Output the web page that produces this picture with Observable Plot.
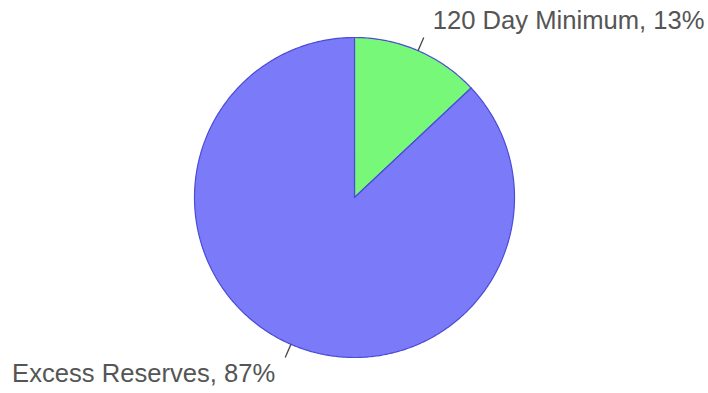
<!DOCTYPE html>
<html>
<head>
<meta charset="utf-8">
<script src="https://cdn.jsdelivr.net/npm/d3@7"></script>
<script src="https://cdn.jsdelivr.net/npm/@observablehq/plot@0.6"></script>
<style>
  html, body { margin: 0; padding: 0; background: #fff; }
  #chart svg { display: block; }
</style>
</head>
<body>
<div id="chart"></div>
<script>
// Data
const categories = ["120 Day Minimum", "Excess Reserves"];
const percents = [13, 87];
const colors = ["#78f878", "#7b7bfa"];

// Slice geometry from the data via d3.pie (angles clockwise from 12 o'clock)
const pie = d3.pie().sort(null).value(d => d.value);
const arcs = pie(categories.map((c, i) => ({name: c, value: percents[i]})));

const slicePts = [];
arcs.forEach(a => {
  const n = Math.max(2, Math.ceil((a.endAngle - a.startAngle) / 0.01));
  slicePts.push({name: a.data.name, x: 0, y: 0});
  for (let k = 0; k <= n; k++) {
    const t = a.startAngle + (a.endAngle - a.startAngle) * k / n;
    slicePts.push({name: a.data.name, x: Math.sin(t), y: Math.cos(t)});
  }
  slicePts.push({name: a.data.name, x: 0, y: 0});
});

const labels = arcs.map(a => {
  const m = (a.startAngle + a.endAngle) / 2;
  return {
    name: a.data.name,
    text: `${a.data.name}, ${a.data.value}%`,
    x1: Math.sin(m), y1: Math.cos(m),
    x2: 1.09 * Math.sin(m), y2: 1.09 * Math.cos(m),
    right: Math.sin(m) >= 0
  };
});

const chart = Plot.plot({
  width: 708,
  height: 393,
  margin: 0,
  x: {domain: [-1, 1], range: [194, 514], axis: null},
  y: {domain: [-1, 1], range: [357, 37], axis: null},
  color: {domain: categories, range: colors},
  style: {fontFamily: "'Liberation Sans', Arial, sans-serif", background: "#fff"},
  marks: [
    Plot.line(slicePts, {x: "x", y: "y", z: "name", fill: "name", stroke: "#4b4bd6", strokeWidth: 1.2, curve: "linear"}),
    Plot.link(labels, {x1: "x1", y1: "y1", x2: "x2", y2: "y2", stroke: "#444", strokeWidth: 1.3}),
    Plot.text(labels.filter(d => d.right), {x: "x2", y: "y2", text: "text", textAnchor: "start", dx: 9, dy: -17, fontSize: 25.6, fill: "#555"}),
    Plot.text(labels.filter(d => !d.right), {x: "x2", y: "y2", text: "text", textAnchor: "end", dx: -10, dy: 16, fontSize: 25.6, fill: "#555"})
  ]
});
document.getElementById("chart").appendChild(chart);
</script>
</body>
</html>
